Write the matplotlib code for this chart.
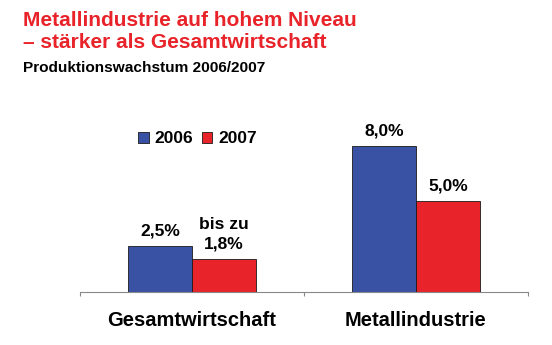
import matplotlib
matplotlib.use("Agg")
import matplotlib.pyplot as plt
import numpy as np

plt.rcParams['font.family'] = ['Liberation Sans', 'DejaVu Sans']

# Data
categories = ["Gesamtwirtschaft", "Metallindustrie"]
years = ["2006", "2007"]
values_2006 = [2.5, 8.0]
values_2007 = [1.8, 5.0]
labels_2006 = ["2,5%", "8,0%"]
labels_2007 = ["bis zu\n1,8%", "5,0%"]

blue = "#3A52A4"
red = "#E8232A"

fig = plt.figure(figsize=(5.52, 3.45), dpi=100)
ax = fig.add_axes([80 / 552, (345 - 292) / 345, 448 / 552, (292 - 128) / 345])

x = np.arange(len(categories))
w = 0.286
b1 = ax.bar(x - w / 2, values_2006, w, color=blue, edgecolor="#1a1a1a", linewidth=0.6, label=years[0])
b2 = ax.bar(x + w / 2, values_2007, w, color=red, edgecolor="#1a1a1a", linewidth=0.6, label=years[1])

for rect, lab in zip(b1, labels_2006):
    ax.text(rect.get_x() + rect.get_width() / 2, rect.get_height() + 0.45, lab,
            ha="center", va="bottom", fontsize=12.5, fontweight="bold")
for rect, lab in zip(b2, labels_2007):
    ax.text(rect.get_x() + rect.get_width() / 2, rect.get_height() + 0.4, lab,
            ha="center", va="bottom", fontsize=12.5, fontweight="bold", linespacing=1.4)

ax.set_xlim(-0.5, 1.5)
ax.set_ylim(0, 9)
ax.set_xticks([-0.5, 0.5, 1.5])
ax.set_xticklabels([])
ax.tick_params(axis="x", length=3, color="#888888")
ax.set_yticks([])
for s in ["top", "right", "left"]:
    ax.spines[s].set_visible(False)
ax.spines["bottom"].set_color("#888888")

for xi, cat in zip(x, categories):
    ax.text(xi, -1.55, cat, ha="center", va="center", fontsize=14.5, fontweight="bold")

leg = ax.legend(loc="upper left", bbox_to_anchor=(0.095, 1.075), ncol=2, frameon=False,
                prop={"weight": "bold", "size": 12.5}, handlelength=0.6, handleheight=0.6,
                handletextpad=0.35, columnspacing=0.5)

fig.text(23 / 552, 1 - 20 / 345, "Metallindustrie auf hohem Niveau", color=red,
         fontsize=15, fontweight="bold", va="center")
fig.text(23 / 552, 1 - 42 / 345, "– stärker als Gesamtwirtschaft", color=red,
         fontsize=15, fontweight="bold", va="center")
fig.text(23 / 552, 1 - 68 / 345, "Produktionswachstum 2006/2007", color="black",
         fontsize=11.1, fontweight="bold", va="center")

fig.savefig("out.png", dpi=100)
